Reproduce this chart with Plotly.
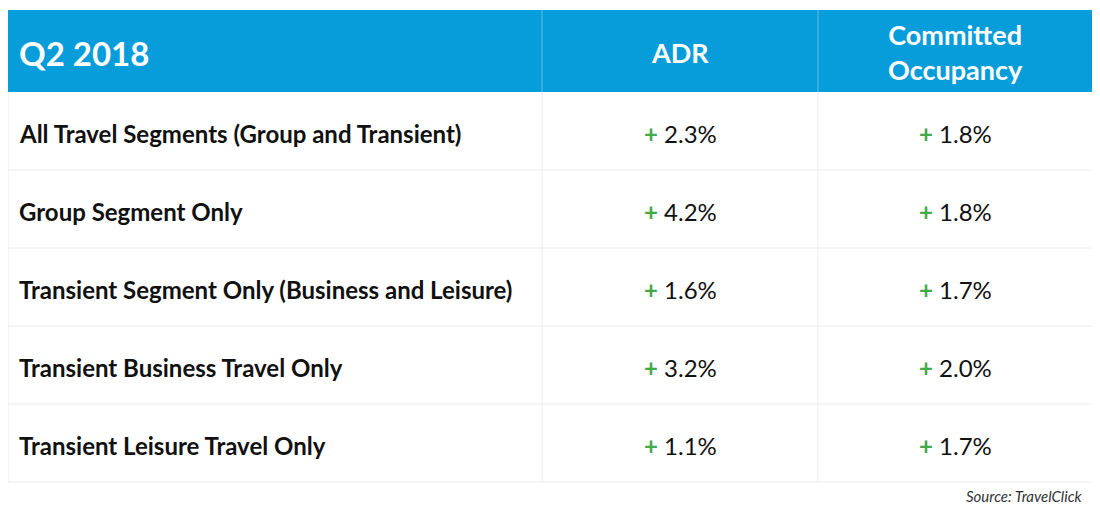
import plotly.graph_objects as go

# table contents
period = "Q2 2018"
metrics = ["ADR", "Committed<br>Occupancy"]
segments = [
    "All Travel Segments (Group and Transient)",
    "Group Segment Only",
    "Transient Segment Only (Business and Leisure)",
    "Transient Business Travel Only",
    "Transient Leisure Travel Only",
]
adr_change = [2.3, 4.2, 1.6, 3.2, 1.1]
occupancy_change = [1.8, 1.8, 1.7, 2.0, 1.7]
source = "Source: TravelClick"

BLUE = "#079cda"
GREEN = "#43a847"
GRID = "#ececec"
TEXT = "#111111"

# the page has an 8px body margin, so the figure is a bit smaller than the window
W, H = 1092, 505
# layout of the grid, in pixels of the figure
col_edges = [0, 534, 810, 1085]
top, head_h, row_h = 2, 82, 78
pad = 9


def fmt(v):
    return f"<span style='color:{GREEN}'><b>+</b></span> {v:.1f}%"


fig = go.Figure()
shapes = []
annotations = []

# header band
shapes.append(dict(type="rect", x0=col_edges[0], x1=col_edges[-1], y0=top, y1=top + head_h,
                   fillcolor=BLUE, line_width=0, layer="below"))
for x in col_edges[1:-1]:
    shapes.append(dict(type="line", x0=x, x1=x, y0=top, y1=top + head_h,
                       line=dict(color="#62bfe8", width=1)))

# body grid
body_top = top + head_h
bottom = body_top + row_h * len(segments)
for i in range(1, len(segments) + 1):
    y = body_top + row_h * i
    shapes.append(dict(type="line", x0=col_edges[0], x1=col_edges[-1], y0=y, y1=y,
                       line=dict(color=GRID, width=1)))
for x in col_edges:
    shapes.append(dict(type="line", x0=x, x1=x, y0=body_top, y1=bottom,
                       line=dict(color=GRID, width=1)))

# header text
head_y = top + head_h / 2 + 1
annotations.append(dict(x=col_edges[0] + pad, y=head_y + 1, text=f"<b>{period}</b>", xanchor="left",
                        font=dict(family="Lato", size=33, color="white")))
for j, m in enumerate(metrics):
    cx = (col_edges[j + 1] + col_edges[j + 2]) / 2
    annotations.append(dict(x=cx, y=head_y, text=f"<b>{m}</b>", xanchor="center",
                            font=dict(family="Lato", size=27, color="white")))

# body text
for i, seg in enumerate(segments):
    cy = body_top + row_h * (i + 0.5) + 2
    annotations.append(dict(x=col_edges[0] + pad, y=cy, text=f"<b>{seg}</b>", xanchor="left",
                            font=dict(family="Lato", size=24, color=TEXT)))
    for j, vals in enumerate([adr_change, occupancy_change]):
        cx = (col_edges[j + 1] + col_edges[j + 2]) / 2
        annotations.append(dict(x=cx, y=cy, text=fmt(vals[i]), xanchor="center",
                                font=dict(family="Lato", size=24, color=TEXT)))

for a in annotations:
    a.update(xref="x", yref="y", yanchor="middle", showarrow=False)

# source note
annotations.append(dict(x=1076, y=488, xref="x", yref="y", text=f"<i>{source}</i>",
                        xanchor="right", yanchor="middle", showarrow=False,
                        font=dict(family="Lato", size=15, color="#333333")))

fig.update_layout(
    width=W,
    height=H,
    margin=dict(l=0, r=0, t=0, b=0),
    paper_bgcolor="white",
    plot_bgcolor="white",
    shapes=shapes,
    annotations=annotations,
    xaxis=dict(range=[0, W], visible=False, fixedrange=True),
    yaxis=dict(range=[H, 0], visible=False, fixedrange=True),
    showlegend=False,
)

fig.write_html("out.html")
